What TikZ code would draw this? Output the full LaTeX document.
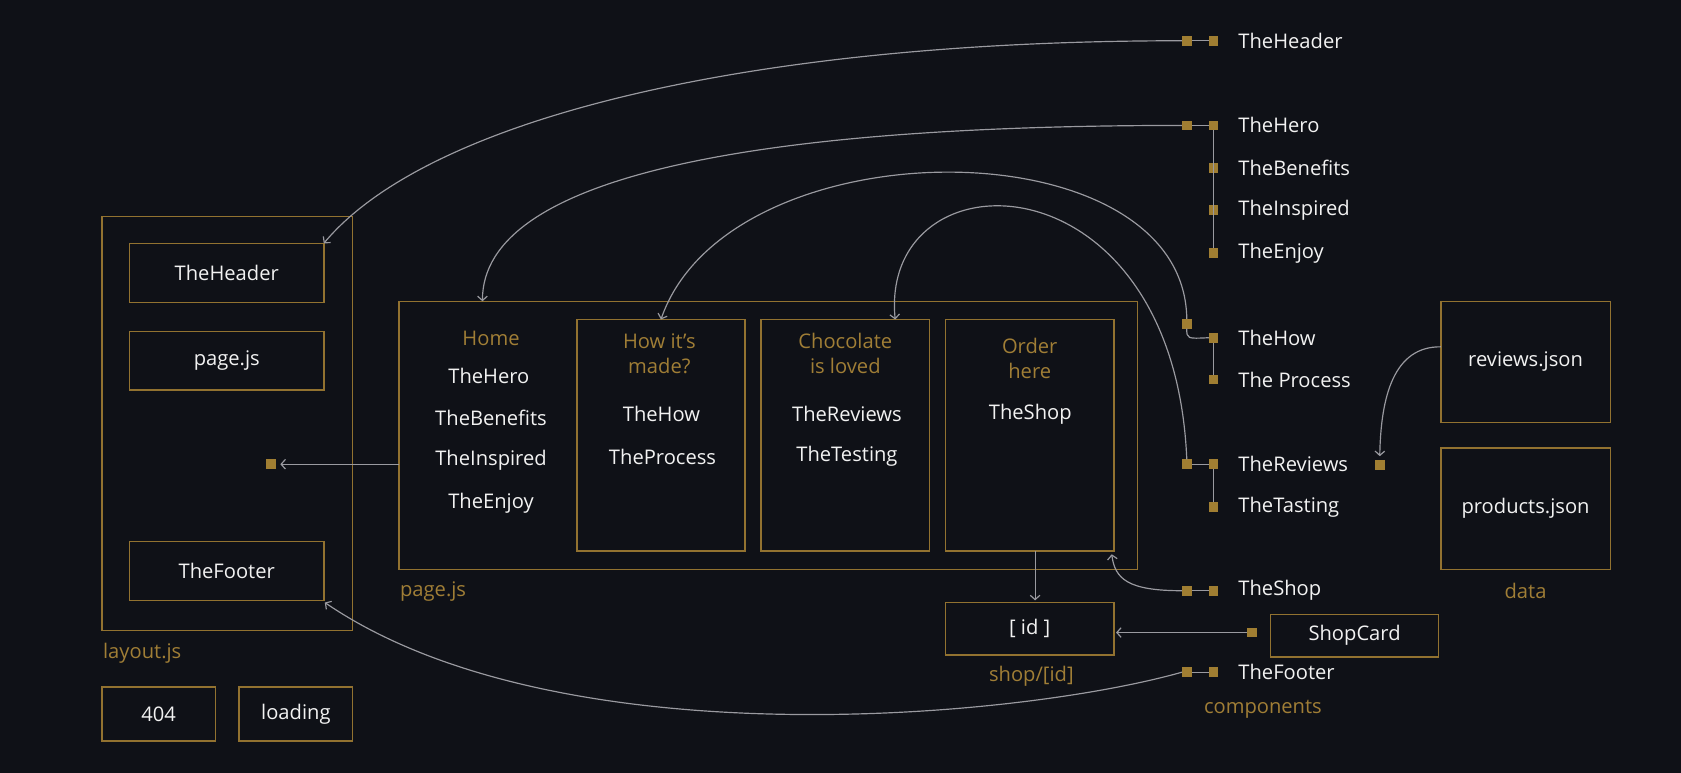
\documentclass[tikz,border=0pt]{standalone}
\usepackage{fontspec}
\setmainfont{Open Sans}
\usetikzlibrary{arrows.meta}
\definecolor{bg}{HTML}{0F1117}
\definecolor{gold}{HTML}{927230}
\definecolor{sqc}{HTML}{A07E32}
\definecolor{goldtxt}{HTML}{A07E36}
\definecolor{wire}{HTML}{9A9AA0}
\definecolor{txt}{HTML}{F2F2F2}
\begin{document}
\begin{tikzpicture}[x=1pt,y=-1pt,
  box/.style={draw=gold, line width=1.4pt, inner sep=0pt, outer sep=0pt, text=txt, font=\fontsize{18.8}{22}\selectfont},
  wt/.style={text=txt, inner sep=0pt, font=\fontsize{18.8}{22}\selectfont},
  gt/.style={text=goldtxt, inner sep=0pt, align=center, font=\fontsize{18.8}{23.5}\selectfont},
  lt/.style={wt, anchor=west},
  sqn/.style={fill=sqc, minimum size=9pt, inner sep=0pt, outer sep=0pt},
  wire/.style={draw=wire, line width=1.1pt},
  arr/.style={wire, -{Straight Barb[length=4pt,width=9pt]}}
]
\fill[bg] (0,0) rectangle (1568,721);
\useasboundingbox (0,0) rectangle (1568,721);

% layout
\node[box, minimum width=234pt, minimum height=386pt] (layout) at (212,395) {};
\node[gt, anchor=west] (layoutlbl) at (96,609) {layout.js};
\node[box, minimum width=181pt, minimum height=55pt] (hdrbox) at (211.5,254.5) {TheHeader};
\node[box, minimum width=181pt, minimum height=55pt] (pgbox) at (211.5,336.5) {page.js};
\node[box, minimum width=181pt, minimum height=55pt] (ftrbox) at (211.5,532.5) {TheFooter};
\node[sqn] (lsq) at (253,433) {};
\node[box, minimum width=106pt, minimum height=50pt] (nf) at (148,666) {404};
\node[box, minimum width=106pt, minimum height=50pt] (ld) at (276,666) {loading};

% page
\node[box, minimum width=689pt, minimum height=250pt] (pagebox) at (716.5,406) {};
\node[gt, anchor=west] (pagelbl) at (373,552) {page.js};
\node[gt] (home) at (458,316) {Home};
\node[wt] (p1) at (456,351) {TheHero};
\node[wt] (p2) at (458,390) {TheBenefits};
\node[wt] (p3) at (458,429) {TheInspired};
\node[wt] (p4) at (458,469) {TheEnjoy};

\node[box, minimum width=157pt, minimum height=216pt] (howbox) at (616.5,406) {};
\node[gt] (howt) at (615,330) {How it’s\\made?};
\node[wt] (how1) at (617,386) {TheHow};
\node[wt] (how2) at (618,426) {TheProcess};

\node[box, minimum width=157pt, minimum height=216pt] (chocbox) at (788.5,406) {};
\node[gt] (choct) at (788.5,330) {Chocolate\\is loved};
\node[wt] (choc1) at (790,386) {TheReviews};
\node[wt] (choc2) at (790,426) {TheTesting};

\node[box, minimum width=157pt, minimum height=216pt] (ordbox) at (960.5,406) {};
\node[gt] (ordt) at (960.5,334) {Order\\here};
\node[wt] (ord1) at (961,386) {TheShop};

% shop/[id]
\node[box, minimum width=157pt, minimum height=49pt] (idbox) at (960.5,586.5) {[ id ]};
\node[gt] (idlbl) at (962,631) {shop/[id]};
\node[box, minimum width=157pt, minimum height=40pt] (scbox) at (1263.5,593) {ShopCard};
\node[sqn] (scsq) at (1168,590) {};

% data
\node[box, minimum width=158pt, minimum height=113pt] (revbox) at (1423,337.5) {reviews.json};
\node[box, minimum width=158pt, minimum height=113pt] (prodbox) at (1423,474.5) {products.json};
\node[gt] (datalbl) at (1423,551) {data};

% components
\node[sqn] (hA) at (1107,38) {};
\node[sqn] (hB) at (1132,38) {};
\node[lt] (hT) at (1155,38) {TheHeader};
\node[sqn] (heA) at (1107,117) {};
\node[sqn] (heB) at (1132,117) {};
\node[lt] (heT) at (1155,117) {TheHero};
\node[sqn] (bB) at (1132,157) {};
\node[lt] (bT) at (1155,157) {TheBenefits};
\node[sqn] (iB) at (1132,196) {};
\node[lt] (iT) at (1155,196) {TheInspired};
\node[sqn] (eB) at (1132,236) {};
\node[lt] (eT) at (1155,236) {TheEnjoy};
\node[sqn] (hwA) at (1107,302) {};
\node[sqn] (hwB) at (1132,315) {};
\node[lt] (hwT) at (1155,315) {TheHow};
\node[sqn] (prB) at (1132,354) {};
\node[lt] (prT) at (1155,354) {The Process};
\node[sqn] (rvA) at (1107,433) {};
\node[sqn] (rvB) at (1132,433) {};
\node[lt] (rvT) at (1155,433) {TheReviews};
\node[sqn] (rsq) at (1287,434) {};
\node[sqn] (tsB) at (1132,473) {};
\node[lt] (tsT) at (1155,473) {TheTasting};
\node[sqn] (shA) at (1107,551) {};
\node[sqn] (shB) at (1132,551) {};
\node[lt] (shT) at (1155,551) {TheShop};
\node[sqn] (ftA) at (1107,627) {};
\node[sqn] (ftB) at (1132,627) {};
\node[lt] (ftT) at (1155,627) {TheFooter};
\node[gt] (complbl) at (1178,662) {components};

% component links
\draw[wire] (hA) -- (hB);
\draw[wire] (heA) -- (heB);
\draw[wire] (heB) -- (eB);
\draw[wire] (hwB) -- (prB);
\draw[wire] (rvA) -- (rvB);
\draw[wire] (rvB) -- (tsB);
\draw[wire] (shA) -- (shB);
\draw[wire] (ftA) -- (ftB);
\draw[wire] (hwA.south) .. controls (1107,316) .. (hwB.west);

% connectors
\draw[arr] (hA.west) .. controls (700,38) and (400,110) .. (hdrbox.north east);
\draw[arr] (heA.west) .. controls (700,117) and (450,165) .. ([xshift=78pt]pagebox.north west);
\draw[arr] (hwA.north) .. controls (1105,115) and (680,115) .. (howbox.north);
\draw[arr] (rvA.north) .. controls (1095,140) and (820,140) .. ([xshift=46.5pt]chocbox.north);
\draw[arr] (shA.west) .. controls (1052,551) and (1040,540) .. ([shift={(-2,3)}]ordbox.south east);
\draw[arr] (ftA.west) .. controls (950,670) and (520,710) .. ([shift={(1,2)}]ftrbox.south east);
\draw[arr] ([yshift=14pt]revbox.west) .. controls (1300,323) and (1288,370) .. ([yshift=4pt]rsq.north);
\draw[arr] (pagebox.west |- lsq) -- ([xshift=4pt]lsq.east);
\draw[arr] ([xshift=5pt]ordbox.south) -- ([xshift=5pt,yshift=2pt]idbox.north);
\draw[arr] (scsq.west) -- ([xshift=2pt]idbox.east |- scsq);
\end{tikzpicture}
\end{document}
